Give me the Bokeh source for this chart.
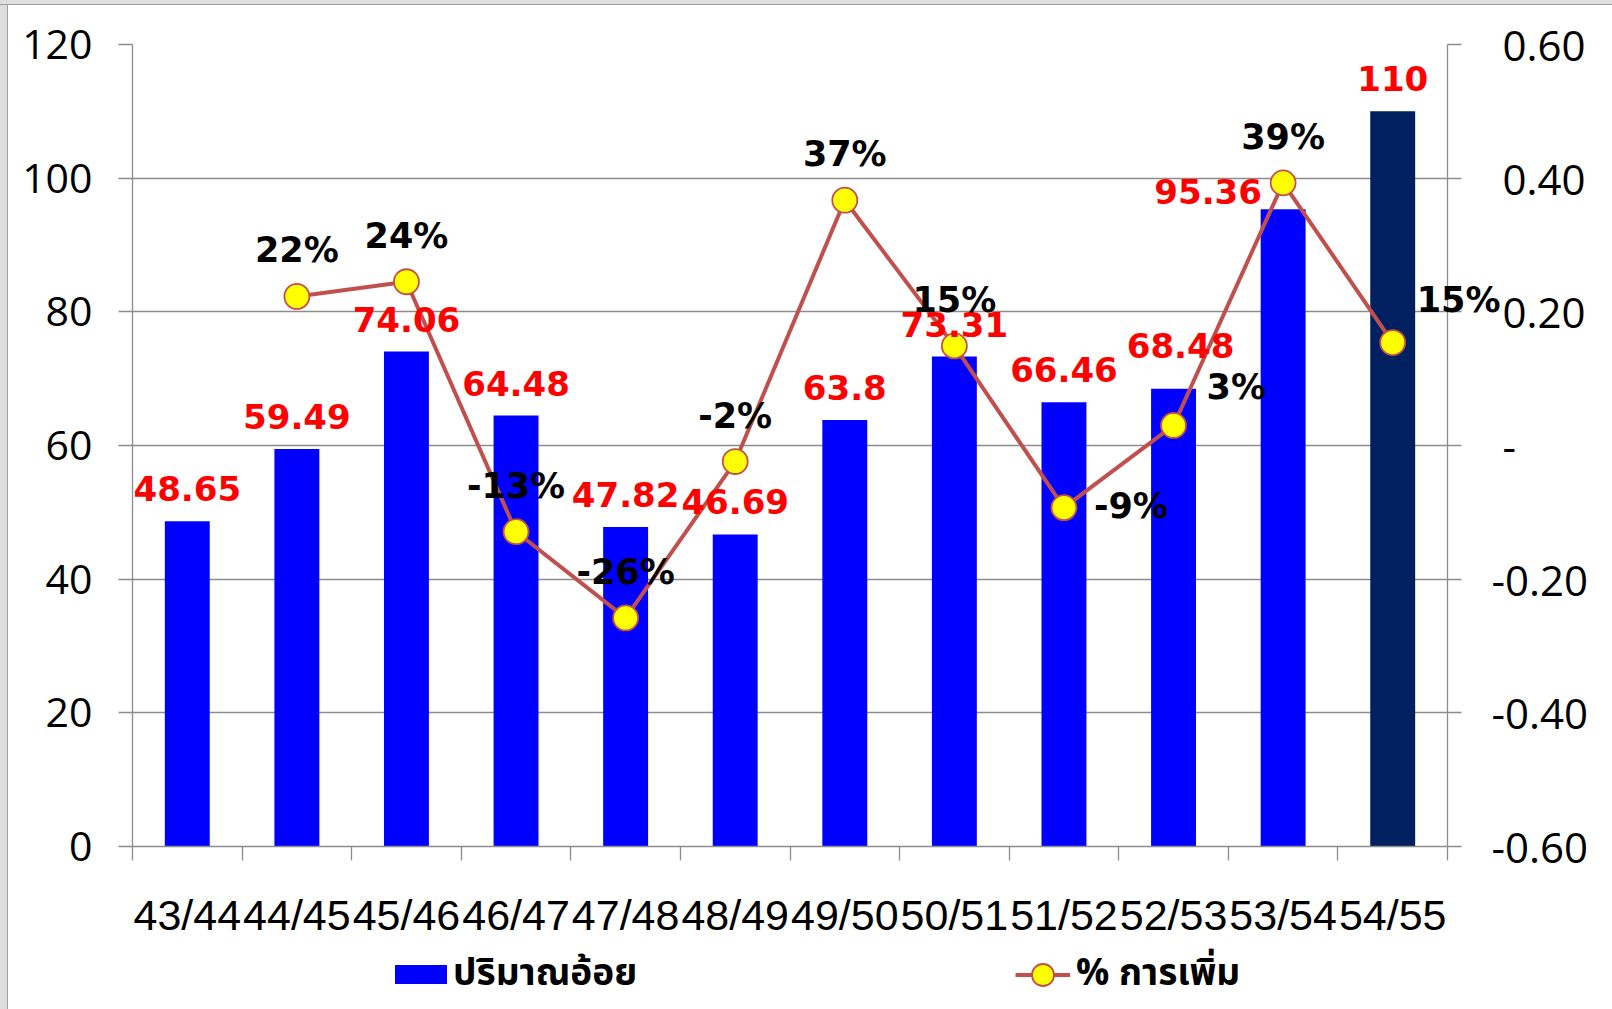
from bokeh.plotting import figure
from bokeh.layouts import column
from bokeh.models import (ColumnDataSource, Range1d, LinearAxis, FixedTicker,
                          Legend, LegendItem, Label)
from bokeh.core.properties import value, field
from bokeh.embed import file_html
from bokeh.resources import INLINE

# ---------------- data ----------------
categories = ["43/44", "44/45", "45/46", "46/47", "47/48", "48/49",
              "49/50", "50/51", "51/52", "52/53", "53/54", "54/55"]
cane_volume = [48.65, 59.49, 74.06, 64.48, 47.82, 46.69,
               63.8, 73.31, 66.46, 68.48, 95.36, 110]
volume_labels = ["48.65", "59.49", "74.06", "64.48", "47.82", "46.69",
                 "63.8", "73.31", "66.46", "68.48", "95.36", "110"]
growth = [float("nan"), 0.223, 0.245, -0.129, -0.258, -0.024,
          0.367, 0.149, -0.093, 0.030, 0.393, 0.154]
growth_labels = ["", "22%", "24%", "-13%", "-26%", "-2%",
                 "37%", "15%", "-9%", "3%", "39%", "15%"]
left_ticks = [0, 20, 40, 60, 80, 100, 120]
right_ticks = [-0.6, -0.4, -0.2, 0.0, 0.2, 0.4, 0.6]
right_tick_labels = ["-0.60", "-0.40", "-0.20", "\u00a0-", "\u00a00.20", "\u00a00.40", "\u00a00.60"]
series_names = ["ปริมาณอ้อย", "% การเพิ่ม"]

# ---------------- styling (not data) ----------------
BAR_BLUE = "#0000FF"
BAR_NAVY = "#002060"
LINE_RED = "#C0504D"
bar_colors = [BAR_BLUE] * 11 + [BAR_NAVY]
SH = -13  # baseline compensation
vol_dx = [0, 0, 0, 0, 0, 0, 0, 0, 0, 7, -75, 0]
vol_dy = [v + SH for v in [-19.5, -19.5, -19.5, -19.5, -19.5, -19.5,
                           -19.5, -19.5, -19.5, -30, -5, -19.5]]
pct_align = ["center"] * 8 + ["left", "left", "center", "left"]
pct_dx = [0, 0, 0, 0, 0, 0, 0, 0, 30, 33, 0, 24]
pct_dy = [v + SH for v in [-33, -33, -33, -33, -33, -33, -33, -33, 11.6, -25, -33, -29.5]]

GRID = "#8c8c8c"
AXIS_FONT = "Open Sans"
LABEL_FONT = "DejaVu Sans"

xpos = [i + 0.5 for i in range(len(categories))]
boundaries = list(range(len(categories) + 1))

bar_src = ColumnDataSource(dict(x=xpos, top=cane_volume, color=bar_colors,
                                text=volume_labels, dx=vol_dx, dy=vol_dy))
idx = list(range(1, len(categories)))
inner = idx[:-1]   # labels that sit inside the plot frame
pct_src = ColumnDataSource(dict(x=[xpos[i] for i in idx], y=[growth[i] for i in idx]))
pct_lbl_src = ColumnDataSource(dict(x=[xpos[i] for i in inner], y=[growth[i] for i in inner],
                                    text=[growth_labels[i] for i in inner],
                                    align=[pct_align[i] for i in inner],
                                    dx=[pct_dx[i] for i in inner], dy=[pct_dy[i] for i in inner]))

FIG_W = 132 + 1315 + 160
p = figure(frame_width=1315, frame_height=802,
           min_border_left=132, min_border_right=160,
           min_border_top=44, min_border_bottom=92,
           x_range=Range1d(0, len(categories)), y_range=Range1d(0, 120),
           output_backend="svg", toolbar_location=None, tools="")
p.extra_y_ranges = {"pct": Range1d(-0.6, 0.6)}
p.outline_line_color = None
p.background_fill_color = "white"
p.border_fill_color = "white"

# grid
p.xgrid.visible = False
p.ygrid.ticker = FixedTicker(ticks=left_ticks)
p.ygrid.grid_line_color = GRID
p.ygrid.grid_line_width = 1.3

# left axis
yax = p.yaxis[0]
yax.ticker = FixedTicker(ticks=left_ticks)
yax.axis_line_color = GRID
yax.axis_line_width = 1.3
yax.major_tick_line_color = GRID
yax.major_tick_line_width = 1.3
yax.major_tick_out = 14
yax.major_tick_in = 0
yax.minor_tick_line_color = None
yax.major_label_standoff = 26
yax.major_label_text_font = AXIS_FONT
yax.major_label_text_font_size = "41px"
yax.major_label_text_color = "black"

# right axis
rax = LinearAxis(y_range_name="pct", ticker=FixedTicker(ticks=right_ticks))
rax.major_label_overrides = {t: l for t, l in zip(right_ticks, right_tick_labels)}
rax.axis_line_color = GRID
rax.axis_line_width = 1.3
rax.major_tick_line_color = GRID
rax.major_tick_line_width = 1.3
rax.major_tick_out = 14
rax.major_tick_in = 0
rax.minor_tick_line_color = None
rax.major_label_standoff = 30
rax.major_label_text_font = AXIS_FONT
rax.major_label_text_font_size = "42px"
rax.major_label_text_color = "black"
p.add_layout(rax, "right")

# bottom axis
xax = p.xaxis[0]
xax.ticker = FixedTicker(ticks=xpos, minor_ticks=boundaries)
xax.major_label_overrides = {x: c for x, c in zip(xpos, categories)}
xax.axis_line_color = GRID
xax.axis_line_width = 1.3
xax.major_tick_line_color = None
xax.major_tick_out = 14
xax.major_tick_in = 0
xax.minor_tick_line_color = GRID
xax.minor_tick_line_width = 1.3
xax.minor_tick_out = 14
xax.minor_tick_in = 0
xax.major_label_standoff = 30
xax.major_label_text_font = "Liberation Sans"
xax.major_label_text_font_size = "43px"
xax.major_label_text_color = "black"

# bars
bars = p.vbar(x="x", top="top", width=0.41, bottom=0, source=bar_src,
              fill_color="color", line_color=None)

# line + markers
line = p.line(x="x", y="y", source=pct_src, y_range_name="pct",
              line_color=LINE_RED, line_width=4)
pts = p.scatter(x="x", y="y", source=pct_src, y_range_name="pct", size=25,
                fill_color="#FFFF00", line_color=LINE_RED, line_width=1.8)

# labels
p.text(x="x", y="top", text="text", source=bar_src, x_offset="dx", y_offset="dy",
       text_font=value(LABEL_FONT), text_font_style="bold", text_font_size="34px",
       text_color="#FF0000", text_align="center", text_baseline="alphabetic")
p.text(x="x", y="y", text="text", source=pct_lbl_src, y_range_name="pct",
       x_offset="dx", y_offset="dy", text_align=field("align"),
       text_font=value(LABEL_FONT), text_font_style="bold", text_font_size="35px",
       text_color="black", text_baseline="alphabetic")

# last growth label reaches past the frame: place it in a side panel (no clipping)
last = len(categories) - 1
last_lbl = Label(x=xpos[last], y=growth[last], y_range_name="pct", text=growth_labels[last],
                 x_offset=pct_dx[last], y_offset=-pct_dy[last],
                 text_font=LABEL_FONT, text_font_style="bold", text_font_size="35px",
                 text_color="black", text_align="left", text_baseline="alphabetic")
p.add_layout(last_lbl, "right")

# ---------------- legend strip (separate figure under the chart) ----------------
lg = figure(width=FIG_W, height=71, min_border=0,
            x_range=Range1d(0, 1), y_range=Range1d(0, 1),
            output_backend="svg", toolbar_location=None, tools="")
lg.axis.visible = False
lg.grid.visible = False
lg.outline_line_color = None
lg.background_fill_color = "white"
lg.border_fill_color = "white"

# key glyphs (one point each, placed outside the visible range of this strip)
bar_key = lg.vbar(x=[-10], top=[-10], width=0.4, fill_color=BAR_BLUE, line_color=None)
line_key = lg.line(x=[-10, -9], y=[-10, -10], line_color=LINE_RED, line_width=4)
pt_key = lg.scatter(x=[-10], y=[-10], size=22, fill_color="#FFFF00",
                    line_color=LINE_RED, line_width=1.8)

LEG_FONT = "Noto Sans Thai, Noto Sans, sans-serif"
leg1 = Legend(items=[LegendItem(label=series_names[0], renderers=[bar_key])],
              location=(256, 10), glyph_width=65, glyph_height=24, label_height=24,
              label_standoff=0, padding=0, margin=0, spacing=0,
              border_line_color=None, background_fill_alpha=0,
              label_text_font=LEG_FONT, label_text_font_size="37px",
              label_text_font_style="bold", label_text_color="black")
leg2 = Legend(items=[LegendItem(label=series_names[1], renderers=[line_key, pt_key])],
              location=(883, 10), glyph_width=55, glyph_height=55, label_height=55,
              label_standoff=6, padding=0, margin=0, spacing=0,
              border_line_color=None, background_fill_alpha=0,
              label_text_font=LEG_FONT, label_text_font_size="37px",
              label_text_font_style="bold", label_text_color="black")
lg.add_layout(leg1, "center")
lg.add_layout(leg2, "center")

layout = column(p, lg, spacing=0)

html = file_html(layout, INLINE)
frame_css = ("<style>body::before{content:'';position:fixed;left:0;top:0;width:7px;height:100%;"
             "background:#dedede;border-right:1px solid #a0a0a0;z-index:10}"
             "body::after{content:'';position:fixed;left:0;top:0;width:100%;height:4px;"
             "background:#dedede;border-bottom:1px solid #a0a0a0;z-index:10}</style></head>")
html = html.replace("</head>", frame_css, 1)
open("out.html", "w").write(html)
